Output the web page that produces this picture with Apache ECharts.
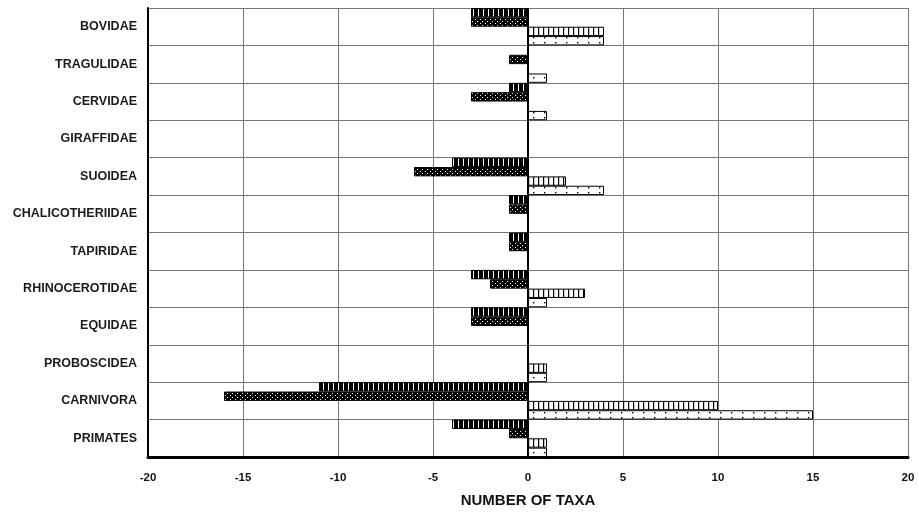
<!DOCTYPE html>
<html>
<head>
<meta charset="utf-8">
<script src="https://cdn.jsdelivr.net/npm/echarts@6/dist/echarts.min.js"></script>
<style>
  html,body{margin:0;padding:0;background:#fff;}
  #chart{width:919px;height:513px;}
</style>
</head>
<body>
<div id="chart"></div>
<script>
// categories, top to bottom
var families = ['BOVIDAE','TRAGULIDAE','CERVIDAE','GIRAFFIDAE','SUOIDEA','CHALICOTHERIIDAE',
    'TAPIRIDAE','RHINOCEROTIDAE','EQUIDAE','PROBOSCIDEA','CARNIVORA','PRIMATES'];
// left side (losses) and right side (gains)
var lossStriped = [-3, 0, -1, 0, -4, -1, -1, -3, -3, 0, -11, -4];
var lossDotted  = [-3, -1, -3, 0, -6, -1, -1, -2, -3, 0, -16, -1];
var gainStriped = [4, 0, 0, 0, 2, 0, 0, 3, 0, 1, 10, 1];
var gainDotted  = [4, 1, 1, 0, 4, 0, 0, 1, 0, 1, 15, 1];
var xTicks = [-20, -15, -10, -5, 0, 5, 10, 15, 20];

// small canvas tiles used as bar fills
function makeTile(w, h, bg, draw) {
    var c = document.createElement('canvas');
    c.width = w; c.height = h;
    var ctx = c.getContext('2d');
    ctx.fillStyle = bg;
    ctx.fillRect(0, 0, w, h);
    draw(ctx);
    return c;
}
var tileLossStripe = makeTile(5, 10, '#000', function (ctx) {
    ctx.fillStyle = '#fff';
    ctx.fillRect(3, 0, 1, 10);
});
var tileLossDot = makeTile(5, 4, '#000', function (ctx) {
    ctx.fillStyle = '#fff';
    ctx.fillRect(2, 1, 1, 1);
    ctx.fillRect(0, 3, 1, 1);
});
var tileGainStripe = makeTile(5, 10, '#fff', function (ctx) {
    ctx.fillStyle = '#000';
    ctx.fillRect(3, 0, 1.2, 10);
});
var tileGainDot = makeTile(11, 5, '#fff', function (ctx) {
    ctx.fillStyle = '#000';
    ctx.fillRect(5, 2, 1.4, 1.4);
});

function clean(arr) {
    return arr.map(function (v) { return v === 0 ? '-' : v; });
}

function barSeries(name, data, tile) {
    return {
        name: name,
        type: 'bar',
        data: clean(data),
        barGap: '0%',
        barCategoryGap: '0%',
        silent: true,
        itemStyle: {
            color: { image: tile, repeat: 'repeat' },
            borderColor: '#000',
            borderWidth: 1
        }
    };
}

var chart = echarts.init(document.getElementById('chart'));
var series = [
    barSeries('lossStriped', lossStriped, tileLossStripe),
    barSeries('lossDotted', lossDotted, tileLossDot),
    barSeries('gainStriped', gainStriped, tileGainStripe),
    barSeries('gainDotted', gainDotted, tileGainDot)
];
series[0].markLine = {
    silent: true,
    symbol: 'none',
    label: { show: false },
    lineStyle: { color: '#000', width: 2, type: 'solid' },
    data: [{ xAxis: 0 }]
};

chart.setOption({
    animation: false,
    backgroundColor: '#fff',
    grid: { left: 148, right: 11, top: 8, bottom: 46 },
    xAxis: {
        type: 'value',
        min: -20,
        max: 20,
        interval: 5,
        name: 'NUMBER OF TAXA',
        nameLocation: 'middle',
        nameGap: 36,
        nameTextStyle: { fontFamily: 'Liberation Sans', fontWeight: 'bold', fontSize: 15, color: '#111' },
        axisLine: { show: true, onZero: false, lineStyle: { color: '#000', width: 3 } },
        axisTick: { show: false },
        axisLabel: {
            margin: 15,
            fontFamily: 'Liberation Sans', fontWeight: 'bold', fontSize: 11.5, color: '#111',
            formatter: function (v) { return xTicks.indexOf(v) >= 0 ? String(v) : ''; }
        },
        splitLine: { show: true, lineStyle: { color: '#777', width: 1 } }
    },
    yAxis: {
        type: 'category',
        data: families,
        inverse: true,
        axisLine: { onZero: false, lineStyle: { color: '#000', width: 2 } },
        axisTick: { show: false },
        axisLabel: {
            margin: 11,
            fontFamily: 'Liberation Sans', fontWeight: 'bold', fontSize: 12.5, color: '#1a1a1a'
        },
        splitLine: { show: true, lineStyle: { color: '#777', width: 1 } }
    },
    series: series
});
</script>
</body>
</html>
